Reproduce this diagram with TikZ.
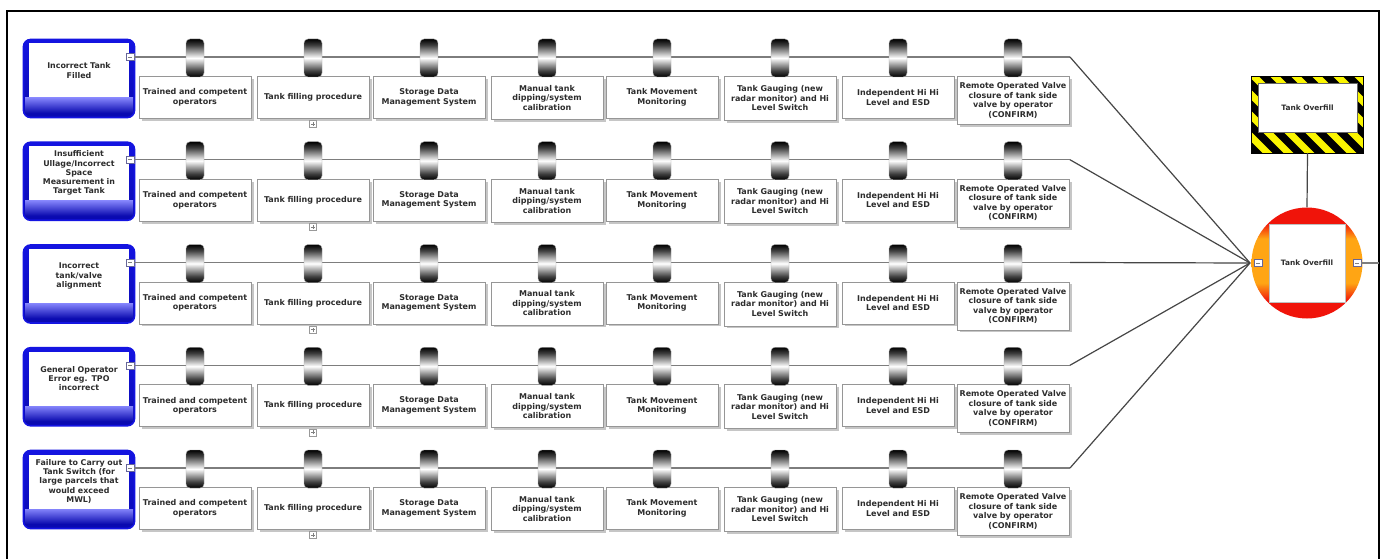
\documentclass[tikz,border=0pt]{standalone}
\usepackage{fontspec}
\setmainfont{DejaVu Sans}
\usetikzlibrary{shadows}
\definecolor{rowgray}{RGB}{125,125,125}
\definecolor{convgray}{RGB}{70,70,70}
\definecolor{tblue}{RGB}{20,20,225}
\definecolor{tbluedark}{RGB}{10,10,175}
\definecolor{tbluelight}{RGB}{130,130,250}
\definecolor{boxborder}{RGB}{150,150,150}
\definecolor{txtgray}{RGB}{45,45,45}
\definecolor{teorange}{RGB}{255,165,20}
\definecolor{tered}{RGB}{240,20,10}
\definecolor{hzyellow}{RGB}{250,245,0}
\pgfdeclareverticalshading{gateshade}{100bp}{color(0bp)=(black); color(25bp)=(black);
  color(33bp)=(black!75); color(50bp)=(white); color(67bp)=(black!75);
  color(75bp)=(black); color(100bp)=(black)}
\pgfdeclareverticalshading{teshade}{100bp}{color(0bp)=(tered); color(25bp)=(tered);
  color(33bp)=(tered); color(41bp)=(teorange); color(61bp)=(teorange);
  color(68bp)=(tered); color(75bp)=(tered); color(100bp)=(tered)}
\begin{document}
\begin{tikzpicture}[x=1pt,y=-1pt,
  rowline/.style={draw=rowgray,line width=1.3pt},
  convline/.style={draw=convgray,line width=1.2pt},
  threatbox/.style={draw=tblue,line width=1.6pt,rounded corners=7pt,
    minimum width=111pt,minimum height=78pt,inner sep=0pt,
    top color=tblue,bottom color=tbluedark},
  threattext/.style={text width=104pt,align=center,inner sep=0pt,text=txtgray,
    font=\bfseries\fontsize{7.9}{9.2}\selectfont},
  minusbox/.style={draw=gray!80!blue,fill=white,line width=0.5pt,minimum width=8pt,
    minimum height=7pt,inner sep=0pt,
    path picture={\draw[gray,line width=0.5pt]
      ([xshift=-2pt]path picture bounding box.center) --
      ([xshift=2pt]path picture bounding box.center);}},
  plusbox/.style={draw=gray!80,fill=white,line width=0.5pt,minimum width=7pt,
    minimum height=7pt,inner sep=0pt,
    path picture={\draw[gray,line width=0.5pt]
      ([xshift=-2pt]path picture bounding box.center) --
      ([xshift=2pt]path picture bounding box.center)
      ([yshift=-2pt]path picture bounding box.center) --
      ([yshift=2pt]path picture bounding box.center);}},
  gate/.style={draw=gray!70,line width=0.4pt,rounded corners=4pt,minimum width=18pt,
    minimum height=38pt,inner sep=0pt,shading=gateshade},
  barrierbox/.style={draw=boxborder,line width=0.7pt,fill=white,minimum width=110pt,
    text width=112pt,align=center,inner xsep=0pt,inner ysep=2pt,anchor=north,
    text=txtgray,font=\bfseries\fontsize{8}{9.5}\selectfont,
    drop shadow={shadow xshift=2.5pt,shadow yshift=-2.5pt,fill=gray!45,opacity=1}},
  tebox/.style={draw=gray!50,fill=white,line width=0.5pt,minimum width=76pt,
    minimum height=78pt,inner sep=0pt,text=txtgray,
    font=\bfseries\fontsize{7.4}{9}\selectfont},
  tecircle/.style={circle,minimum size=111pt,inner sep=0pt,shading=teshade},
  hazard/.style={fill=hzyellow,minimum width=111pt,minimum height=76pt,inner sep=0pt},
  hazardin/.style={fill=white,draw=black!60,line width=0.4pt,minimum width=99pt,
    minimum height=49pt,inner sep=0pt,text=txtgray,
    font=\bfseries\fontsize{7.4}{9}\selectfont}
]
\useasboundingbox (0,0) rectangle (1384,559);
\fill[white] (0,0) rectangle (1384,559);
% frame
\draw[black,line width=2.5pt] (7,559) -- (7,11) -- (1379,11) -- (1379,559);

% top event and hazard
\coordinate (conv) at (1250,263);
\coordinate (out) at (1379,263);
\node[tecircle] (te) at (1307,263) {};
\node[tebox] (tesq) at (1307,263) {Tank Overfill};
\node[minusbox] (tl) at (1258,263) {};
\node[minusbox] (tr) at (1357,263) {};
\draw[rowline] (tr.east) -- (out);

\node[hazard] (hz) at (1307.5,115) {};
\begin{scope}
  \clip (hz.south west) rectangle (hz.north east);
  \foreach \s in {-120,-99,...,140}
    \draw[black,line width=7.5pt] (1252+\s,70) -- ++(92,92);
\end{scope}
\draw[black,line width=0.8pt] (hz.south west) rectangle (hz.north east);
\node[hazardin] (hzin) at (1307.5,107.5) {Tank Overfill};
\draw[convline] (hz.south) -- (te.north);

\def\barrierlist{195/{Trained and competent\\operators}/42,
  313/{Tank filling procedure}/42,
  429/{Storage Data\\Management System}/42,
  547/{Manual tank\\dipping/system\\calibration}/43,
  662/{Tank Movement\\Monitoring}/42,
  780/{Tank Gauging (new\\radar monitor) and Hi\\Level Switch}/44,
  898/{Independent Hi Hi\\Level and ESD}/42,
  1013/{Remote Operated Valve\\closure of tank side\\valve by operator\\(CONFIRM)}/48}

\foreach \r/\ttxt in {1/{Incorrect Tank\\Filled},
  2/{Insufficient\\Ullage/Incorrect\\Space\\Measurement in\\Target Tank},
  3/{Incorrect\\tank/valve\\alignment},
  4/{General Operator\\Error eg. TPO\\incorrect},
  5/{Failure to Carry out\\Tank Switch (for\\large parcels that\\would exceed\\MWL)}}{
  \pgfmathsetmacro{\Y}{57+102.75*(\r-1)}
  % threat
  \node[threatbox] (t\r) at (79,{\Y+21.5}) {};
  \fill[white] (29,{\Y-13.5}) rectangle (129,{\Y+41});
  \shade[top color=tbluelight,bottom color=tbluedark] (25,{\Y+41}) rectangle (133,{\Y+56});
  \node[threattext] (tt\r) at (79,{\Y+13.5}) {\ttxt};
  \node[minusbox] (m\r) at (130,\Y) {};
  % connector
  \coordinate (b\r) at (1070,\Y);
  \draw[rowline] (m\r.east) -- (b\r);
  \draw[convline] (b\r) -- (conv);
  % barriers
  \foreach \c/\btxt/\bh [count=\k] in \barrierlist {
    \node[barrierbox,minimum height=\bh pt] (bar\r-\k) at (\c,{\Y+19}) {\btxt};
    \node[gate] (g\r-\k) at (\c,{\Y+1}) {};
  }
  \node[plusbox] (p\r) at (313,{\Y+67}) {};
}
\end{tikzpicture}
\end{document}
